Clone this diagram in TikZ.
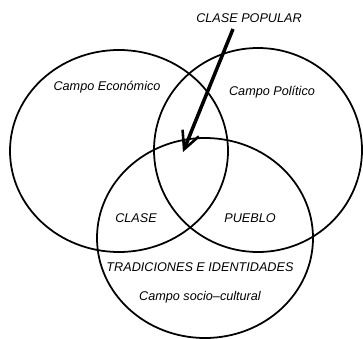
\documentclass[tikz,border=0pt]{standalone}
\usepackage{fontspec}
\setmainfont{Liberation Sans}
\usetikzlibrary{arrows.meta}

\tikzset{
  campo/.style={black,line width=1.5pt},
  rotulo/.style={font=\fontsize{10.8}{13}\selectfont\itshape,inner sep=0pt},
  flecha/.style={line width=3pt,-{Straight Barb[length=15pt,width=15pt,line width=2.2pt]}}
}

\begin{document}
\begin{tikzpicture}[x=0.03cm,y=-0.03cm]
    \useasboundingbox (0,0) rectangle (363,339);
    % los tres campos
    \draw[campo] (119,151) ellipse [x radius=109, y radius=101];
    \draw[campo] (258,150) ellipse [x radius=104, y radius=102];
    \draw[campo] (205,238) ellipse [x radius=108, y radius=100];
    % rotulos
    \node[rotulo] (popular) at (249,18) {CLASE POPULAR};
    \node[rotulo] (economico) at (107,87) {Campo Económico};
    \node[rotulo] (politico) at (272,92) {Campo Político};
    \node[rotulo] (clase) at (136,218) {CLASE};
    \node[rotulo] (pueblo) at (250,218) {PUEBLO};
    \node[rotulo] (tradiciones) at (200,267) {TRADICIONES E IDENTIDADES};
    \node[rotulo] (sociocultural) at (200,297) {Campo socio--cultural};
    %\draw[loosely dotted] (0,0) grid[step=20] (363,339);
    \coordinate (inicio) at (233,29);
    \coordinate (centro) at (183,152);
    \draw[flecha] (inicio) -- (centro);
\end{tikzpicture}
\end{document}
